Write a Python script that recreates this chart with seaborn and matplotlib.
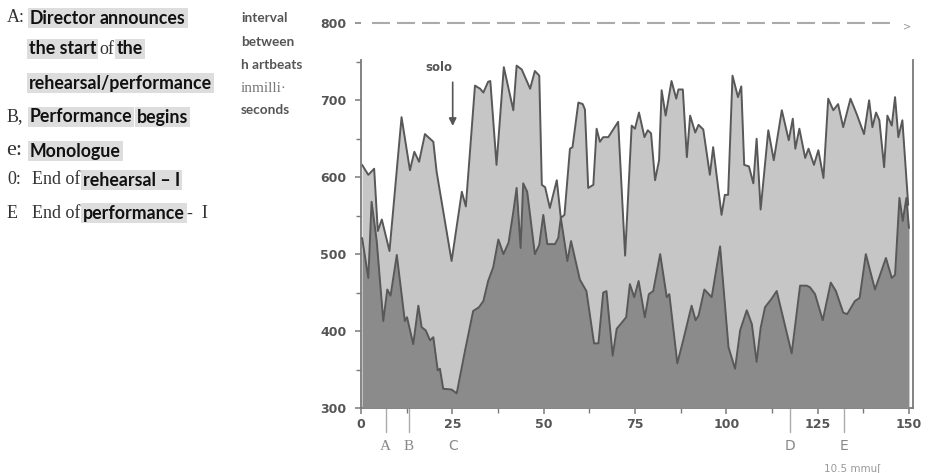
import numpy as np
import pandas as pd
import matplotlib
matplotlib.use("Agg")
import matplotlib.pyplot as plt
import seaborn as sns

# ---------------- data ----------------
upper_x = [0.3, 2.0, 3.6, 4.6, 5.7, 7.8, 11.1, 13.4, 14.6, 15.9,
           17.5, 19.8, 20.7, 24.8, 27.6, 28.7, 31.2, 32.6, 33.5, 34.8,
           35.4, 37.1, 39.1, 41.7, 42.6, 44.0, 46.3, 47.6, 48.8, 49.5,
           50.4, 51.7, 53.6, 54.7, 55.7, 57.2, 57.9, 59.5, 60.7, 61.3,
           62.2, 63.6, 64.5, 65.4, 66.3, 67.7, 70.4, 72.3, 74.1, 75.0,
           76.1, 77.6, 78.5, 79.4, 80.5, 81.6, 82.3, 83.4, 85.0, 86.3,
           86.9, 88.1, 89.2, 90.1, 91.5, 92.4, 93.7, 95.5, 96.4, 98.7,
           99.6, 100.5, 101.7, 103.2, 104.1, 104.9, 106.2, 107.4, 108.3, 109.4,
           111.5, 113.0, 115.2, 117.1, 118.2, 118.9, 120.0, 121.6, 122.5, 124.0,
           125.2, 126.6, 127.9, 129.3, 130.6, 132.0, 134.0, 135.7, 137.7, 139.1,
           140.0, 141.0, 141.9, 143.2, 144.1, 145.3, 146.2, 147.1, 148.2, 149.8]
upper_y = [616, 603, 611, 530, 545, 504, 678, 609, 633, 620,
           656, 646, 607, 491, 581, 562, 719, 715, 710, 724,
           725, 616, 743, 687, 745, 740, 715, 738, 732, 590,
           587, 560, 596, 547, 551, 637, 639, 697, 695, 688,
           586, 590, 663, 646, 652, 652, 672, 498, 667, 663,
           684, 652, 661, 657, 596, 622, 713, 680, 725, 702,
           714, 714, 626, 680, 658, 668, 662, 603, 639, 551,
           577, 577, 732, 704, 718, 616, 614, 592, 650, 558,
           661, 622, 687, 648, 676, 637, 663, 625, 637, 616,
           635, 599, 702, 687, 695, 665, 702, 682, 656, 700,
           665, 684, 674, 613, 680, 667, 704, 652, 674, 564]

lower_x = [0.3, 2.0, 2.9, 4.3, 6.1, 7.2, 8.1, 9.8, 12.0, 12.6,
           14.3, 15.7, 16.6, 17.7, 18.9, 19.8, 21.0, 21.6, 22.5, 24.8,
           26.2, 28.5, 30.7, 32.3, 33.5, 34.8, 36.2, 37.6, 39.0, 40.4,
           41.7, 42.6, 43.7, 44.4, 45.5, 47.6, 48.8, 49.9, 51.0, 53.1,
           54.0, 54.7, 56.5, 57.5, 59.9, 61.7, 63.8, 65.0, 66.3, 67.2,
           68.9, 70.0, 71.4, 72.6, 73.6, 74.8, 76.0, 77.7, 78.8, 80.0,
           81.9, 83.7, 84.4, 86.6, 88.2, 90.5, 91.6, 92.4, 94.0, 96.0,
           98.3, 100.6, 102.4, 103.8, 105.6, 107.0, 108.3, 109.4, 110.6, 112.4,
           113.8, 117.9, 120.2, 122.0, 122.9, 124.3, 126.4, 128.6, 130.0, 132.0,
           133.1, 135.2, 136.5, 138.2, 140.7, 143.7, 145.3, 146.2, 147.4, 148.3,
           149.3, 150.0]
lower_y = [521, 469, 568, 517, 413, 454, 446, 499, 413, 418,
           383, 433, 405, 401, 388, 392, 349, 351, 325, 324,
           319, 375, 426, 431, 439, 465, 483, 519, 500, 515,
           555, 586, 508, 592, 581, 500, 512, 551, 513, 513,
           521, 547, 491, 517, 467, 452, 384, 384, 450, 452,
           368, 403, 411, 418, 461, 444, 465, 418, 448, 452,
           500, 444, 448, 358, 388, 433, 414, 420, 454, 444,
           510, 379, 351, 401, 427, 409, 360, 404, 431, 442,
           452, 371, 459, 459, 457, 448, 414, 463, 452, 424,
           422, 439, 443, 500, 454, 495, 469, 473, 573, 543,
           573, 534]

x_major = [0, 25, 50, 75, 100, 125, 150]
y_major = [300, 400, 500, 600, 700, 800]
event_labels = ["A", "B", "C", "D", "E"]
event_x = [6.8, 13.1, 25.2, 117.5, 132.3]

# ---------------- style ----------------
sns.set_style("ticks")
plt.rcParams["font.family"] = ["DejaVu Sans"]

W, H = 934, 473
fig = plt.figure(figsize=(W / 100, H / 100), dpi=100)
ax = fig.add_axes([361 / W, 65 / H, 551.6 / W, 384.7 / H])

LIGHT = "#c6c6c6"
DARK = "#8b8b8b"
LINE = "#585858"
AXC = "#7a7a7a"
TXT = "#555555"

df_u = pd.DataFrame({"x": upper_x, "y": upper_y})
df_l = pd.DataFrame({"x": lower_x, "y": lower_y})

ax.fill_between(df_u["x"], 300, df_u["y"], color=LIGHT, lw=0, zorder=1)
sns.lineplot(data=df_u, x="x", y="y", ax=ax, color=LINE, lw=1.4, zorder=2,
             estimator=None, sort=False)
ax.fill_between(df_l["x"], 300, df_l["y"], color=DARK, lw=0, zorder=3)
sns.lineplot(data=df_l, x="x", y="y", ax=ax, color=LINE, lw=1.4, zorder=4,
             estimator=None, sort=False)

ax.set_xlim(0, 151)
ax.set_ylim(300, 800)
ax.set_xlabel("")
ax.set_ylabel("")

ax.spines["top"].set_visible(False)
for s in ["left", "right"]:
    ax.spines[s].set_bounds(300, 752)
    ax.spines[s].set_color(AXC)
    ax.spines[s].set_linewidth(1.3)
ax.spines["bottom"].set_bounds(0, 151)
ax.spines["bottom"].set_color(AXC)
ax.spines["bottom"].set_linewidth(1.3)

ax.set_xticks(x_major)
ax.set_xticks([12.5, 37.5, 62.5, 87.5, 112.5, 137.5], minor=True)
ax.set_yticks(y_major)
ax.set_yticks([350, 450, 550, 650, 750], minor=True)
ax.tick_params(axis="both", which="major", direction="out", length=4.5,
               width=1.1, color=AXC, labelcolor=TXT, labelsize=9)
ax.tick_params(axis="both", which="minor", direction="out", length=3.5,
               width=1.0, color=AXC)
ax.tick_params(axis="y", which="major", pad=6)
ax.tick_params(axis="x", which="major", pad=3)
ax.tick_params(right=False, which="both")
for lab in ax.get_xticklabels() + ax.get_yticklabels():
    lab.set_fontweight("bold")

# dashed break line at 800
ax.plot([2.9, 145.6], [800, 800], ls=(0, (8.6, 3.4)), lw=1.5,
        color="#aaaaaa", clip_on=False, zorder=5)
ax.text(149.5, 796, ">", color="#999999", fontsize=7, ha="center",
        va="center", clip_on=False)

# solo annotation
ax.text(21.2, 742, "solo", fontsize=8.5, fontweight="bold", color=TXT,
        ha="center", va="center")
ax.annotate("", xy=(25.1, 663), xytext=(25.1, 727),
            arrowprops=dict(arrowstyle="-|>", color=TXT, lw=1.2,
                            mutation_scale=11))

# event markers below the axis
for lab, ex in zip(event_labels, event_x):
    if lab != "C":
        ax.plot([ex, ex], [300, 269], color="#aaaaaa", lw=1.0,
                clip_on=False)
    fam = ["Liberation Serif"] if lab in ("A", "B") else ["DejaVu Sans"]
    ax.text(ex, 250.5, lab, fontsize=11 if lab in ("A", "B") else 10,
            family=fam, color="#888888", ha="center", va="center",
            clip_on=False)

fig.text(853 / W, 1 - 468 / H, "10.5 mmu[", fontsize=7.5, color="#999999",
         ha="center", va="center", family=["DejaVu Sans"])

# ---------------- left text block ----------------
HL = dict(boxstyle="square,pad=0.1", fc="#dddddd", ec="none")
SER = ["Liberation Serif"]
BLD = ["Lato", "DejaVu Sans"]


def seg(px, py, s, kind, size=None):
    if kind == "b":
        fig.text(px / W, 1 - py / H, s, family=BLD, fontweight="bold",
                 fontsize=size or 12.8, color="#111111", va="center",
                 ha="left", bbox=HL)
    elif kind == "s":
        fig.text(px / W, 1 - py / H, s, family=SER, fontsize=size or 13,
                 color="#333333", va="center", ha="left")


seg(7, 18, "A:", "s"); seg(30, 18, "Director", "b"); seg(100, 18, "announces", "b")
seg(29, 49, "the start", "b"); seg(99, 49, "of", "s"); seg(117, 49, "the", "b")
seg(29, 83, "rehearsal/performance", "b")
seg(7, 117, "B,", "s"); seg(30, 117, "Performance", "b"); seg(137, 117, "begins", "b")
seg(6, 150, "e:", "s", 16); seg(30, 151, "Monologue", "b")
seg(7, 180, "0:", "s"); seg(32, 180, "End of", "s"); seg(83, 180, "rehearsal \u2013 I", "b")
seg(7, 213, "E", "s"); seg(32, 213, "End of", "s"); seg(83, 213, "performance", "b")
seg(187, 213, "-  I", "s")

# right text block (axis title)
for py, s, kind in [(18, "interval", "b"), (42, "between", "b"),
                    (65, "h artbeats", "b"), (88, "inmilli\u00b7", "s"),
                    (110, "seconds", "b")]:
    if kind == "b":
        fig.text(241 / W, 1 - py / H, s, family=BLD, fontweight="bold",
                 fontsize=9.8, color=TXT, va="center", ha="left")
    else:
        fig.text(241 / W, 1 - py / H, s, family=SER, fontsize=11,
                 color="#777777", va="center", ha="left")

fig.savefig("out.png", dpi=100)
